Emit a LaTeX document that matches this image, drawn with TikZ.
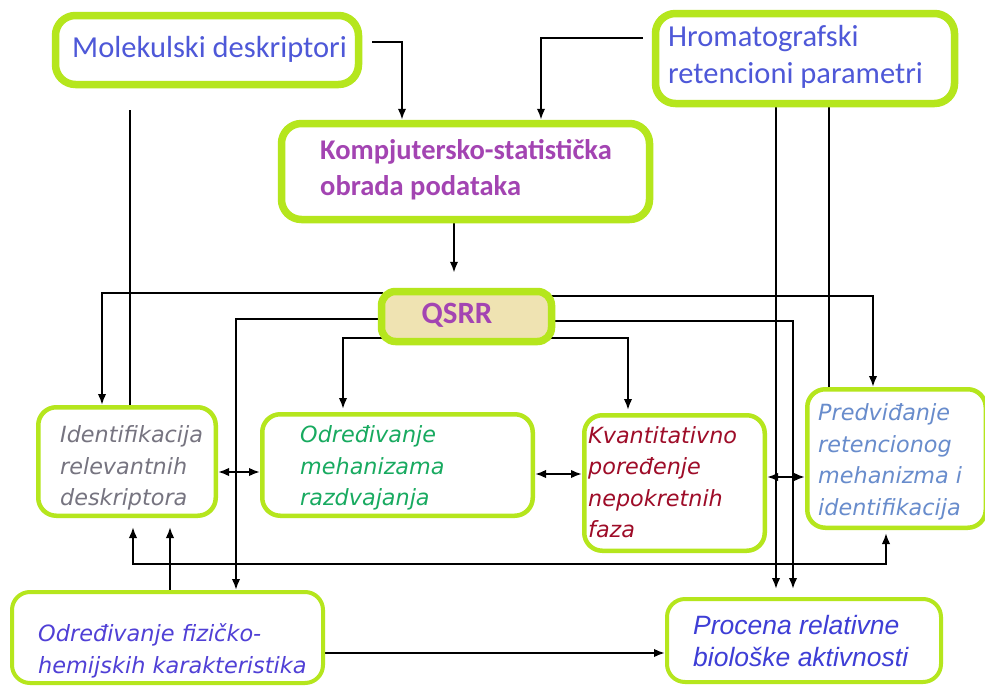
\documentclass[tikz,border=0pt]{standalone}
\usepackage{fontspec}
\setmainfont{Carlito}
\newfontfamily\dvs{DejaVu Sans}[ItalicFont={DejaVu Sans Oblique}]
\newfontfamily\lbs{Liberation Sans}
\usetikzlibrary{arrows.meta,calc}
\definecolor{bordergreen}{RGB}{181,230,29}
\definecolor{qfill}{RGB}{239,227,178}
\definecolor{cmol}{RGB}{78,88,216}
\definecolor{ckomp}{RGB}{163,68,178}
\definecolor{cident}{RGB}{118,116,128}
\definecolor{cmeh}{RGB}{24,170,96}
\definecolor{ckvant}{RGB}{158,12,40}
\definecolor{cpred}{RGB}{104,140,204}
\definecolor{cfiz}{RGB}{80,64,214}
\definecolor{cproc}{RGB}{62,62,214}
\pgfdeclarelayer{bg}
\pgfsetlayers{bg,main}
\begin{document}
\begin{tikzpicture}[x=1pt,y=-1pt,
  box/.style={draw=bordergreen, fill=white, rounded corners=20pt, inner sep=0pt},
  thickbox/.style={box, line width=7.5pt},
  thinbox/.style={box, line width=4.5pt, rounded corners=18pt},
  txt/.style={anchor=west, inner sep=0pt, align=left},
  toptxt/.style={txt, font=\fontsize{30.5}{37}\selectfont, text=cmol},
  midtxt/.style={txt, font=\dvs\itshape\fontsize{22.3}{31.5}\selectfont},
  conn/.style={line width=2pt, black},
  tip/.tip={Latex[length=11pt,width=8.5pt]},
  arr/.style={conn, -tip},
  darr/.style={conn, tip-tip},
]
\useasboundingbox (0,0) rectangle (985,688);

% boxes
\node[thickbox, minimum width=303pt, minimum height=69pt] (mol) at (207,50) {};
\node[thickbox, minimum width=299pt, minimum height=90pt] (hrom) at (805,58.5) {};
\node[thickbox, minimum width=368pt, minimum height=96pt] (komp) at (465.5,171.5) {};
\node[thickbox, fill=qfill, rounded corners=14pt, minimum width=170pt, minimum height=50pt] (qsrr) at (466.5,316.5) {};
\node[thinbox, minimum width=177.5pt, minimum height=108.5pt] (ident) at (127,461.5) {};
\node[thinbox, minimum width=270.5pt, minimum height=101.5pt] (meh) at (397.5,465) {};
\node[thinbox, minimum width=180.5pt, minimum height=135.5pt] (kvant) at (674.5,483) {};
\node[thinbox, minimum width=178.5pt, minimum height=138.5pt] (pred) at (896.5,458.5) {};
\node[thinbox, line width=4pt, minimum width=311pt, minimum height=91pt] (fiz) at (167.5,637.5) {};
\node[thinbox, line width=4pt, minimum width=274pt, minimum height=83pt] (proc) at (804,640.5) {};

% texts
\node[toptxt] (molt) at (72,49) {Molekulski deskriptori};
\node[toptxt] (hromt) at (668,56.5) {Hromatografski\\retencioni parametri};
\node[txt, font=\bfseries\fontsize{28.5}{36}\selectfont, text=ckomp] (kompt) at (320,170) {Kompjutersko-statistička\\obrada podataka};
\node[inner sep=0pt, font=\bfseries\fontsize{31}{36}\selectfont, text=ckomp] (qsrrt) at (457,315) {QSRR};
\node[midtxt, text=cident] (identt) at (60,468) {Identifikacija\\relevantnih\\deskriptora};
\node[midtxt, text=cmeh] (meht) at (300,468) {Određivanje\\mehanizama\\razdvajanja};
\node[midtxt, text=ckvant] (kvantt) at (588,482) {Kvantitativno\\poređenje\\nepokretnih\\faza};
\node[midtxt, text=cpred] (predt) at (818,462) {Predviđanje\\retencionog\\mehanizma i\\identifikacija};
\node[txt, font=\dvs\itshape\fontsize{22.4}{32}\selectfont, text=cfiz] (fizt) at (38,651) {Određivanje fizičko-\\hemijskih karakteristika};
\node[txt, font=\lbs\itshape\fontsize{26.5}{32}\selectfont, text=cproc] (proct) at (693,641) {Procena relativne\\biološke aktivnosti};

% connectors
\begin{pgfonlayer}{bg}
\fill[white] (0,0) rectangle (985,688);
\draw[arr] ($(mol.east)+(10,-8)$) -| ($(komp.north)+(-63.5,0)$);
\draw[arr] ($(hrom.west)+(-9,-20.5)$) -| ($(komp.north)+(75.5,0)$);
\draw[arr] ($(komp.south)+(-11.5,0)$) -- ($(qsrr.north)+(-12.5,-15)$);
\draw[conn] ($(mol.south)+(-77,22)$) -- ($(ident.north)+(3,0)$);
\draw[arr] ($(qsrr.west)+(5,-23.5)$) -| ($(ident.north)+(-25,0)$);
\draw[arr] ($(qsrr.east)+(-5,-20.5)$) -| ($(pred.north)+(-23.5,0)$);
\draw[arr] ($(qsrr.west)+(5,2.5)$) -| ($(fiz.north)+(68.5,0)$);
\draw[arr] ($(qsrr.east)+(-5,4.5)$) -| ($(proc.north)+(-11,-8)$);
\draw[arr] ($(qsrr.west)+(5,21.5)$) -| ($(meh.north)+(-54.5,-3)$);
\draw[arr] ($(qsrr.east)+(-5,21.5)$) -| ($(kvant.north)+(-46.5,-3)$);
\draw[arr] ($(hrom.south)+(-29,0)$) -- ($(proc.north)+(-28,-8)$);
\draw[conn] ($(hrom.south)+(24,0)$) -- ($(pred.north)+(-67.5,7)$);
\draw[arr] ($(fiz.north)+(2.5,0)$) -- ($(ident.south)+(43,9)$);
\draw[darr] ($(ident.south)+(6,9)$) |- ($(kvant.south)+(0,11)$) -| ($(pred.south)+(-10.5,3)$);
\draw[arr] ($(fiz.east)+(0,15.5)$) -- ($(proc.west)+(0,12.5)$);
\draw[darr] ($(ident.east)+(0,10.5)$) -- ($(meh.west)+(0,7)$);
\draw[darr] ($(meh.east)+(0,9)$) -- ($(kvant.west)+(0,-9)$);
\draw[darr] ($(kvant.east)+(0,-6)$) -- ($(pred.west)+(0,18.5)$);
\end{pgfonlayer}
\end{tikzpicture}
\end{document}
